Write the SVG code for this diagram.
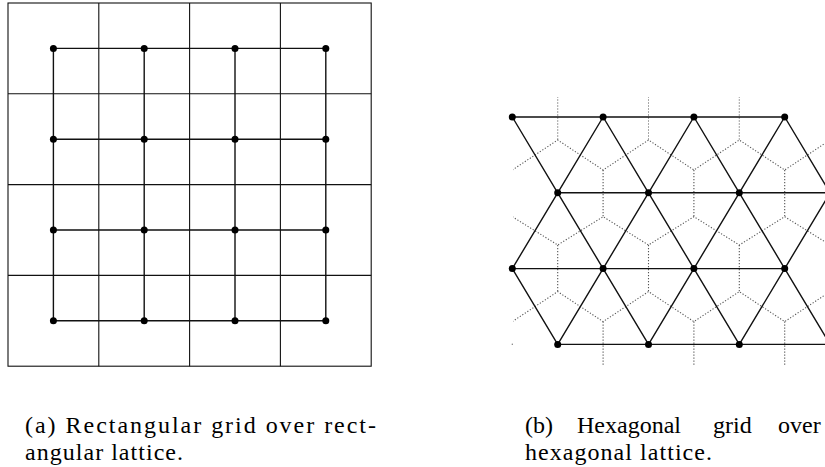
<svg xmlns="http://www.w3.org/2000/svg" width="825" height="467" viewBox="0 0 825 467">
<style>
.grid{fill:none;stroke:#111;stroke-width:1.1}
.lat{fill:none;stroke:#111;stroke-width:1.4}
.hex{fill:none;stroke:#555;stroke-width:1.1;stroke-dasharray:1.2 1.8}
.dot{fill:#000}
.cap{font-family:"Liberation Serif","Times New Roman",serif;font-size:24px;fill:#000}
</style>
<defs>
<clipPath id="hexclip"><rect x="513" y="97" width="320" height="268"/></clipPath>
</defs>
<g id="rect-grid">
<rect class="grid" x="8" y="3" width="363.2" height="363.2"/>
<path class="grid" d="M98.8 3V366.2M189.6 3V366.2M280.4 3V366.2M8 93.8H371.2M8 184.6H371.2M8 275.4H371.2"/>
</g>
<g id="rect-lattice">
<path class="lat" d="M53.4 48.4H325.8M53.4 139.2H325.8M53.4 230H325.8M53.4 320.8H325.8M53.4 48.4V320.8M144.2 48.4V320.8M235 48.4V320.8M325.8 48.4V320.8"/>
<g class="dot">
<circle cx="53.4" cy="48.4" r="3.5"/><circle cx="144.2" cy="48.4" r="3.5"/><circle cx="235" cy="48.4" r="3.5"/><circle cx="325.8" cy="48.4" r="3.5"/>
<circle cx="53.4" cy="139.2" r="3.5"/><circle cx="144.2" cy="139.2" r="3.5"/><circle cx="235" cy="139.2" r="3.5"/><circle cx="325.8" cy="139.2" r="3.5"/>
<circle cx="53.4" cy="230" r="3.5"/><circle cx="144.2" cy="230" r="3.5"/><circle cx="235" cy="230" r="3.5"/><circle cx="325.8" cy="230" r="3.5"/>
<circle cx="53.4" cy="320.8" r="3.5"/><circle cx="144.2" cy="320.8" r="3.5"/><circle cx="235" cy="320.8" r="3.5"/><circle cx="325.8" cy="320.8" r="3.5"/>
</g>
</g>
<g id="hex-grid" clip-path="url(#hexclip)">
<path class="hex" d="M557.7 93.4V140M648.5 93.4V140M739.3 93.4V140M830.1 93.4V140M557.7 245V291.6M648.5 245V291.6M739.3 245V291.6M830.1 245V291.6M603.1 170V216.7M693.9 170V216.7M784.7 170V216.7M603.1 321.6V368.3M693.9 321.6V368.3M784.7 321.6V368.3"/>
<polyline class="hex" points="512.3,170 557.7,140 603.1,170 648.5,140 693.9,170 739.3,140 784.7,170 830.1,140"/>
<polyline class="hex" points="512.3,216.7 557.7,245 603.1,216.7 648.5,245 693.9,216.7 739.3,245 784.7,216.7 830.1,245"/>
<polyline class="hex" points="512.3,321.6 557.7,291.6 603.1,321.6 648.5,291.6 693.9,321.6 739.3,291.6 784.7,321.6 830.1,291.6"/>
</g>
<circle cx="512.3" cy="344.3" r="0.7" fill="#777"/>
<g id="hex-lattice">
<path class="lat" d="M512.3 117H784.7M557.7 192.8H830.1M512.3 268.6H784.7M557.7 344.4H830.1"/>
<polyline class="lat" points="512.3,117 557.7,192.8 603.1,117 648.5,192.8 693.9,117 739.3,192.8 784.7,117 830.1,192.8"/>
<polyline class="lat" points="512.3,268.6 557.7,192.8 603.1,268.6 648.5,192.8 693.9,268.6 739.3,192.8 784.7,268.6 830.1,192.8"/>
<polyline class="lat" points="512.3,268.6 557.7,344.4 603.1,268.6 648.5,344.4 693.9,268.6 739.3,344.4 784.7,268.6 830.1,344.4"/>
<g class="dot">
<circle cx="512.3" cy="117" r="3.5"/><circle cx="603.1" cy="117" r="3.5"/><circle cx="693.9" cy="117" r="3.5"/><circle cx="784.7" cy="117" r="3.5"/>
<circle cx="557.7" cy="192.8" r="3.5"/><circle cx="648.5" cy="192.8" r="3.5"/><circle cx="739.3" cy="192.8" r="3.5"/>
<circle cx="512.3" cy="268.6" r="3.5"/><circle cx="603.1" cy="268.6" r="3.5"/><circle cx="693.9" cy="268.6" r="3.5"/><circle cx="784.7" cy="268.6" r="3.5"/>
<circle cx="557.7" cy="344.4" r="3.5"/><circle cx="648.5" cy="344.4" r="3.5"/><circle cx="739.3" cy="344.4" r="3.5"/>
</g>
</g>
<g id="caption-a">
<text class="cap" x="25" y="433" textLength="351" lengthAdjust="spacing">(a) Rectangular grid over rect-</text>
<text class="cap" x="25" y="460" textLength="158" lengthAdjust="spacing">angular lattice.</text>
</g>
<g id="caption-b">
<text class="cap" y="433"><tspan x="525">(b)</tspan><tspan x="577">Hexagonal</tspan><tspan x="713">grid</tspan><tspan x="778">over</tspan></text>
<text class="cap" x="525" y="460" textLength="187" lengthAdjust="spacing">hexagonal lattice.</text>
</g>
</svg>
